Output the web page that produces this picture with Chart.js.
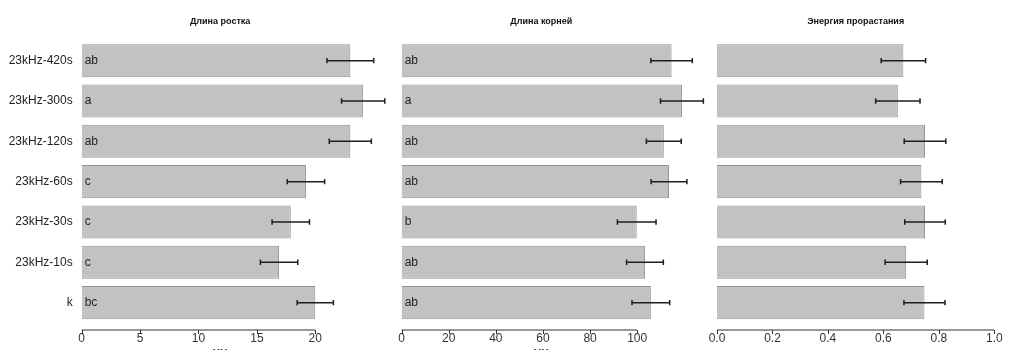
<!DOCTYPE html>
<html>
<head>
<meta charset="utf-8">
<script src="https://cdn.jsdelivr.net/npm/chart.js@4/dist/chart.umd.min.js"></script>
<style>
  html, body { margin: 0; padding: 0; background: #fff; overflow: hidden; }
  #wrap { position: relative; width: 1011px; height: 350px; overflow: hidden; }
  canvas { position: absolute; top: 0; }
</style>
</head>
<body>
<div id="wrap">
  <canvas id="shootChart" width="395" height="365" style="left:0px"></canvas>
  <canvas id="rootChart" width="325" height="365" style="left:390px"></canvas>
  <canvas id="germChart" width="311" height="365" style="left:700px"></canvas>
</div>
<script>
// Data
const categories = ['23kHz-420s', '23kHz-300s', '23kHz-120s', '23kHz-60s', '23kHz-30s', '23kHz-10s', 'k'];

const shootLength = [23.0, 24.1, 23.0, 19.2, 17.9, 16.9, 20.0];
const shootError = [2.0, 1.85, 1.8, 1.6, 1.6, 1.6, 1.55];
const shootLetters = ['ab', 'a', 'ab', 'c', 'c', 'c', 'bc'];

const rootLength = [114.6, 119.0, 111.3, 113.5, 99.8, 103.3, 105.8];
const rootError = [8.8, 9.1, 7.4, 7.6, 8.2, 7.8, 8.0];
const rootLetters = ['ab', 'a', 'ab', 'ab', 'b', 'ab', 'ab'];

const germEnergy = [0.672, 0.652, 0.75, 0.737, 0.75, 0.682, 0.748];
const germError = [0.08, 0.08, 0.075, 0.075, 0.073, 0.076, 0.074];
const germLetters = ['', '', '', '', '', '', ''];

const panelTitles = ['Длина ростка', 'Длина корней', 'Энергия прорастания'];
const axisUnits = ['мм', 'мм', ''];
const tickSteps = [5, 20, 0.2];
const lastTicks = [20, 100, 1.0];
const axisMax = [23.7, 118.6, 1.0];

// Error bars, letters inside bars and an R-style axis line
const extrasPlugin = {
    id: 'extras',
    afterDatasetsDraw(chart, args, opts) {
        const ctx = chart.ctx;
        const xs = chart.scales.x;
        const meta = chart.getDatasetMeta(0);
        ctx.save();
        ctx.strokeStyle = '#1e1e1e';
        ctx.lineWidth = 1.5;
        meta.data.forEach((bar, i) => {
            const lo = xs.getPixelForValue(opts.values[i] - opts.errors[i]);
            const hi = xs.getPixelForValue(opts.values[i] + opts.errors[i]);
            ctx.beginPath();
            ctx.moveTo(lo, bar.y); ctx.lineTo(hi, bar.y);
            ctx.moveTo(lo, bar.y - 2.7); ctx.lineTo(lo, bar.y + 2.7);
            ctx.moveTo(hi, bar.y - 2.7); ctx.lineTo(hi, bar.y + 2.7);
            ctx.stroke();
        });
        ctx.fillStyle = '#222';
        ctx.font = '12px "Liberation Sans", Arial, sans-serif';
        ctx.textAlign = 'left';
        ctx.textBaseline = 'middle';
        meta.data.forEach((bar, i) => {
            if (opts.letters[i]) ctx.fillText(opts.letters[i], bar.base + 3, bar.y);
        });
        // axis line from 0 to the last tick
        const y = chart.chartArea.bottom + 7.2;
        ctx.strokeStyle = '#333';
        ctx.lineWidth = 1;
        ctx.beginPath();
        ctx.moveTo(xs.getPixelForValue(0), y);
        ctx.lineTo(xs.getPixelForValue(opts.lastTick), y);
        xs.ticks.forEach(t => {
            const px = Math.round(xs.getPixelForValue(t.value)) + 0.5;
            ctx.moveTo(px, y);
            ctx.lineTo(px, y + 4);
        });
        ctx.stroke();
        ctx.restore();
    }
};

function makePanel(canvasId, idx, values, errors, letters, padding, showLabels) {
    const ctx = document.getElementById(canvasId).getContext('2d');
    return new Chart(ctx, {
        type: 'bar',
        data: {
            labels: categories,
            datasets: [{
                data: values,
                backgroundColor: '#c2c2c2',
                borderColor: '#929292',
                borderWidth: 1,
                barPercentage: 0.82,
                categoryPercentage: 1,
                clip: false,
            }],
        },
        options: {
            indexAxis: 'y',
            responsive: false,
            animation: false,
            devicePixelRatio: 1,
            layout: { padding: padding },
            plugins: {
                legend: { display: false },
                tooltip: { enabled: false },
                title: {
                    display: true,
                    text: panelTitles[idx],
                    fullSize: false,
                    color: '#111',
                    font: { family: '"Liberation Sans", Arial, sans-serif', size: 9, weight: 'bold' },
                    padding: { top: 16.3, bottom: 13.4 },
                },
                extras: { values: values, errors: errors, letters: letters, lastTick: lastTicks[idx] },
            },
            scales: {
                x: {
                    min: 0,
                    max: axisMax[idx],
                    grid: { display: false, drawTicks: false },
                    border: { display: false },
                    ticks: {
                        padding: 8.3,
                        color: '#333',
                        font: { family: '"Liberation Sans", Arial, sans-serif', size: 12 },
                        callback: v => idx === 2 ? Number(v).toFixed(1) : v,
                    },
                    afterBuildTicks: s => {
                        const ticks = [];
                        for (let v = 0; v <= lastTicks[idx] + 1e-9; v += tickSteps[idx]) {
                            ticks.push({ value: +v.toFixed(6) });
                        }
                        s.ticks = ticks;
                    },
                    afterFit: s => { s.height = 42.2; },
                    title: {
                        display: axisUnits[idx] !== '',
                        text: axisUnits[idx],
                        color: '#333',
                        font: { family: '"Liberation Sans", Arial, sans-serif', size: 11 },
                        padding: { top: 0, bottom: 6 },
                    },
                },
                y: {
                    display: showLabels,
                    grid: { display: false, drawTicks: false },
                    border: { display: false },
                    ticks: {
                        padding: 9,
                        color: '#222',
                        font: { family: '"Liberation Sans", Arial, sans-serif', size: 12 },
                    },
                    afterFit: s => { if (showLabels) s.width = 81.7; },
                },
            },
        },
        plugins: [extrasPlugin],
    });
}

makePanel('shootChart', 0, shootLength, shootError, shootLetters, { left: 0, right: 36.5, top: 0, bottom: 0 }, true);
makePanel('rootChart', 1, rootLength, rootError, rootLetters, { left: 11, right: 34, top: 0, bottom: 0 }, false);
makePanel('germChart', 2, germEnergy, germError, germLetters, { left: 17, right: 13, top: 0, bottom: 0 }, false);
</script>
</body>
</html>
